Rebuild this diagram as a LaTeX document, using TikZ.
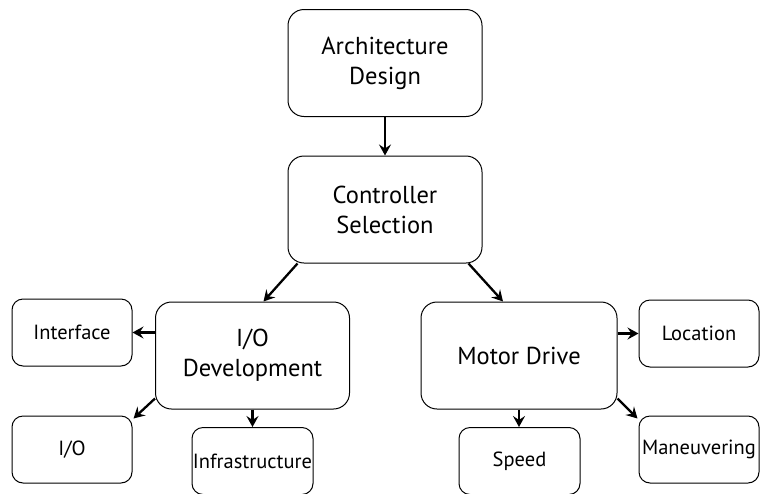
\documentclass[tikz,border=0pt]{standalone}
\usepackage{fontspec}
\setmainfont{PT Sans}
\usetikzlibrary{arrows.meta,calc}
\begin{document}
\begin{tikzpicture}[x=1pt,y=-1pt,
  bigbox/.style={draw,line width=1pt,rounded corners=16pt,minimum width=194pt,minimum height=107pt,inner sep=0pt,align=center,font=\fontsize{24.5}{30}\selectfont},
  smallbox/.style={draw,line width=1pt,rounded corners=11pt,minimum width=120pt,minimum height=67pt,inner sep=0pt,align=center,font=\fontsize{20.5}{24}\selectfont},
  conn/.style={line width=2.3pt,-{Stealth[length=11pt,width=12pt,inset=4pt]}}]
\useasboundingbox (0,0) rectangle (760,493);
\node[bigbox] (arch) at (385,63) {Architecture\\Design};
\node[bigbox] (ctrl) at (385,209.5) {Controller\\Selection};
\node[bigbox] (iodev) at (252.5,355.5) {I/O\\Development};
\node[bigbox,minimum width=196pt] (motor) at (519,355.5) {Motor Drive};
\node[smallbox] (iface) at (72,332.5) {Interface};
\node[smallbox] (io) at (72,449.5) {I/O};
\node[smallbox,minimum width=121pt] (infra) at (252.5,461) {Infrastructure};
\node[smallbox,minimum width=121pt] (speed) at (519.5,461) {Speed};
\node[smallbox] (loc) at (699,333.5) {Location};
\node[smallbox] (man) at (699,449.5) {Maneuvering};
\draw[conn] (arch.south) -- (ctrl.north);
\draw[conn] ($(ctrl.south west)+(10,0)$) -- ($(iodev.north)+(11,0)$);
\draw[conn] ($(ctrl.south east)+(-14,0)$) -- ($(motor.north)+(-16,0)$);
\draw[conn] (iodev.west |- iface.east) -- (iface.east);
\draw[conn] ($(iodev.south west)+(0,-11)$) -- ($(io.north east)+(1,3)$);
\draw[conn] (iodev.south) -- (iodev.south |- infra.north);
\draw[conn] (motor.east |- loc.west) -- (loc.west);
\draw[conn] ($(motor.south east)+(0,-11)$) -- ($(man.north west)+(-1,3)$);
\draw[conn] (motor.south) -- (motor.south |- speed.north);
\end{tikzpicture}
\end{document}
